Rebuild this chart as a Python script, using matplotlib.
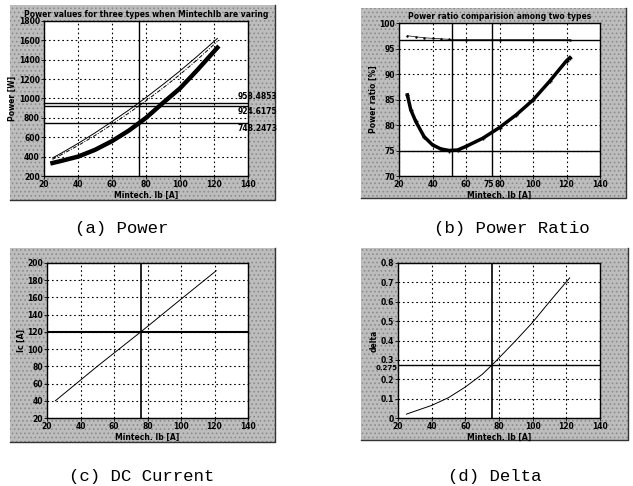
import matplotlib
matplotlib.use("Agg")
import matplotlib.pyplot as plt
from matplotlib.patches import Rectangle
from matplotlib.lines import Line2D

# Panel (a) power curves
ib_a = [25, 30, 40, 50, 60, 70, 76, 80, 90, 100, 110, 122]
power_top = [386, 434, 536, 645, 762, 882, 958, 1010, 1145, 1285, 1434, 1620]
power_mid = [372, 418, 514, 618, 732, 852, 925, 976, 1108, 1248, 1398, 1590]
power_low = [334, 355, 400, 470, 560, 670, 748, 800, 955, 1105, 1290, 1525]
power_refs = [958.4853, 924.6175, 748.2473]
power_ref_labels = ["958.4853", "924.6175", "748.2473"]

# Panel (b) power ratio
ib_b = [25, 27, 30, 35, 40, 45, 50, 55, 60, 70, 80, 90, 100, 110, 120, 122]
ratio_low = [85.9, 83.0, 80.7, 77.7, 76.1, 75.3, 75.0, 75.1, 75.8, 77.4, 79.5, 82.0, 84.9, 88.6, 92.6, 93.2]
ib_b2 = [25, 30, 35, 40, 45, 50, 60, 80, 100, 122]
ratio_top = [97.5, 97.3, 97.1, 97.0, 96.9, 96.8, 96.75, 96.75, 96.75, 96.75]

# Panel (c) DC current
ib_c = [25, 50, 76, 100, 121]
ic = [40, 80, 120, 158, 191]

# Panel (d) delta
ib_d = [25, 30, 40, 50, 60, 70, 76, 80, 90, 100, 110, 122]
delta = [0.02, 0.035, 0.065, 0.105, 0.16, 0.225, 0.275, 0.31, 0.4, 0.494, 0.6, 0.723]

W, H = 633, 486
fig = plt.figure(figsize=(W / 100, H / 100), dpi=100)
plt.rcParams["hatch.linewidth"] = 0.7


def px_rect(x0, y0, x1, y1):
    return [x0 / W, 1 - y1 / H, (x1 - x0) / W, (y1 - y0) / H]


def frame(x0, y0, x1, y1):
    l, b, w, h = px_rect(x0, y0, x1, y1)
    fig.add_artist(Rectangle((l, b), w, h, transform=fig.transFigure,
                             facecolor="#bdbdbd", edgecolor="#8c8c8c",
                             hatch="....", lw=0, zorder=-10))
    fig.add_artist(Line2D([l, l + w, l + w], [b, b, b + h], transform=fig.transFigure,
                          color="#333333", lw=1.0, zorder=-9))


def style(ax, xlabel, ylabel, yticks, ylim, yfmt=None):
    ax.set_facecolor("white")
    ax.set_xlim(20, 140)
    ax.set_xticks(range(20, 141, 20))
    ax.set_ylim(*ylim)
    ax.set_yticks(yticks)
    if yfmt is not None:
        ax.set_yticklabels([yfmt(v) for v in yticks])
    ax.grid(True, color="black", linestyle=(0, (1.5, 2.5)), lw=0.8)
    ax.tick_params(labelsize=5.5, length=2, pad=1, width=0.6)
    for lab in ax.get_xticklabels() + ax.get_yticklabels():
        lab.set_fontweight("bold")
    for s in ax.spines.values():
        s.set_linewidth(1.0)
    ax.set_xlabel(xlabel, fontsize=5.5, labelpad=1, fontweight="bold")
    ax.set_ylabel(ylabel, fontsize=5.5, labelpad=1, fontweight="bold")


cap_font = dict(family="Liberation Mono", fontsize=12.5)

# (a)
frame(10, 5, 275, 200)
ax = fig.add_axes(px_rect(44, 21, 248, 176))
style(ax, "Mintech. Ib [A]", "Power [W]", list(range(200, 1801, 200)), (200, 1800))
ax.plot(ib_a, power_top, color="black", lw=0.7)
ax.plot(ib_a, power_mid, color="black", lw=0.7, linestyle=(0, (4, 1.5, 1, 1.5)))
ax.plot(ib_a, power_low, color="black", lw=3.2)
ax.axvline(76, color="black", lw=1.0)
for v in power_refs:
    ax.axhline(v, color="black", lw=1.0)
ax.text(134, power_refs[0] + 12, power_ref_labels[0], fontsize=5.5, ha="left", va="bottom",
        fontweight="bold", clip_on=False)
ax.text(134, power_refs[1] - 10, power_ref_labels[1], fontsize=5.5, ha="left", va="top",
        fontweight="bold", clip_on=False)
ax.text(134, power_refs[2] - 10, power_ref_labels[2], fontsize=5.5, ha="left", va="top",
        fontweight="bold", clip_on=False)
ax.set_title("Power values for three types when MintechIb are varing", fontsize=5.5, pad=3,
             fontweight="bold")
fig.text(122 / W, 1 - 228 / H, "(a) Power", ha="center", va="center", **cap_font)

# (b)
frame(361, 8, 626, 198)
ax = fig.add_axes(px_rect(399, 23, 600, 176))
style(ax, "Mintech. Ib [A]", "Power ratio [%]", list(range(70, 101, 5)), (70, 100))
ax.plot(ib_b2, ratio_top, color="black", lw=0.5, marker=".", ms=1.5)
ax.plot(ib_b, ratio_low, color="black", lw=2.5, marker="+", ms=3)
ax.axhline(96.75, color="black", lw=1.0)
ax.axhline(75, color="black", lw=1.0)
ax.axvline(51.8, color="black", lw=1.0)
ax.axvline(75.5, color="black", lw=1.0)
ax.text(77, 69.2, "75", fontsize=5.5, ha="right", va="top", fontweight="bold", clip_on=False)
ax.set_title("Power ratio comparision among two types", fontsize=5.5, pad=3, fontweight="bold")
fig.text(512 / W, 1 - 228 / H, "(b) Power Ratio", ha="center", va="center", **cap_font)

# (c)
frame(10, 248, 275, 442)
ax = fig.add_axes(px_rect(47, 263, 248, 418))
style(ax, "Mintech. Ib [A]", "Ic [A]", list(range(20, 201, 20)), (20, 200))
ax.plot(ib_c, ic, color="black", lw=0.7)
ax.axhline(120, color="black", lw=1.5)
ax.axvline(76, color="black", lw=1.2)
fig.text(142 / W, 1 - 476 / H, "(c) DC Current", ha="center", va="center", **cap_font)

# (d)
frame(361, 248, 628, 440)
ax = fig.add_axes(px_rect(398, 263, 600, 418))
style(ax, "Mintech. Ib [A]", "delta", [i / 10 for i in range(0, 9)], (0, 0.8),
      yfmt=lambda v: "0" if v == 0 else f"{v:.1f}")
ax.plot(ib_d, delta, color="black", lw=0.7)
ax.axhline(0.275, color="black", lw=1.0)
ax.axvline(76, color="black", lw=1.2)
ax.text(19.5, 0.276, "0.275", fontsize=5, ha="right", va="top", fontweight="bold",
        clip_on=False)
fig.text(495 / W, 1 - 476 / H, "(d) Delta", ha="center", va="center", **cap_font)

fig.savefig("out.png", dpi=100)
